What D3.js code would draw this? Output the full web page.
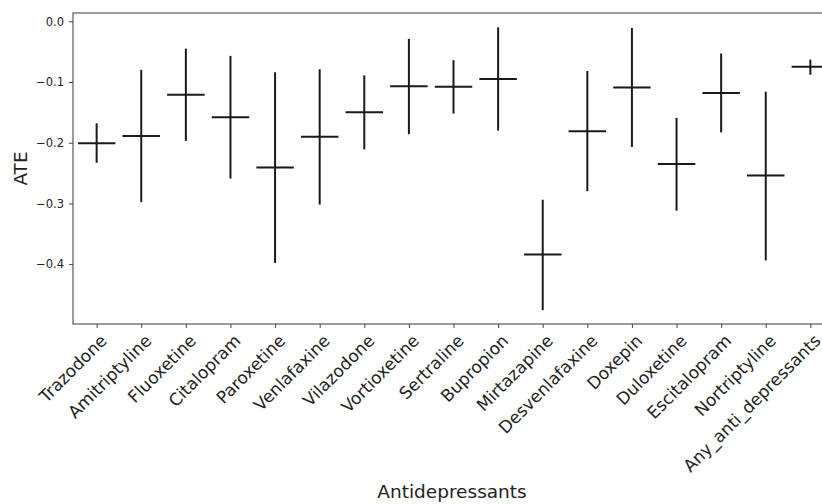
<!DOCTYPE html>
<html>
<head>
<meta charset="utf-8">
<script src="https://cdn.jsdelivr.net/npm/d3@7"></script>
<style>
  body { margin: 0; background: #fff; overflow: hidden; }
  svg { display: block; }
  svg text { font-family: "DejaVu Sans", sans-serif; }
</style>
</head>
<body>
<svg id="chart" width="822" height="504"></svg>
<script>
// ATE estimate per antidepressant, with the lower / upper ends of its interval
var drugs = ["Trazodone", "Amitriptyline", "Fluoxetine", "Citalopram", "Paroxetine",
  "Venlafaxine", "Vilazodone", "Vortioxetine", "Sertraline", "Bupropion", "Mirtazapine",
  "Desvenlafaxine", "Doxepin", "Duloxetine", "Escitalopram", "Nortriptyline",
  "Any_anti_depressants"];
var ate = [-0.201, -0.189, -0.121, -0.158, -0.241, -0.190, -0.150, -0.107, -0.108,
  -0.095, -0.384, -0.181, -0.109, -0.235, -0.118, -0.254, -0.075];
var lower = [-0.233, -0.298, -0.197, -0.259, -0.398, -0.302, -0.211, -0.186, -0.152,
  -0.180, -0.476, -0.280, -0.207, -0.312, -0.183, -0.394, -0.088];
var upper = [-0.168, -0.080, -0.045, -0.057, -0.084, -0.079, -0.089, -0.029, -0.064,
  -0.010, -0.294, -0.082, -0.011, -0.159, -0.053, -0.116, -0.063];
var yTicks = [0, -0.1, -0.2, -0.3, -0.4];

var svg = d3.select("#chart");
var plotLeft = 73, plotTop = 13, plotBottom = 324, plotRight = 834;

var x = d3.scalePoint()
  .domain(drugs)
  .range([plotLeft, plotRight])
  .padding(0.53);

var y = d3.scaleLinear()
  .domain([-0.4987, 0.0137])
  .range([plotBottom, plotTop]);

var capHalf = x.step() * 0.42;
var ink = "#1a1a1a";

var rows = drugs.map(function(d, i) {
  return { name: d, ate: ate[i], lo: lower[i], hi: upper[i] };
});

// vertical interval lines
svg.selectAll(".ci")
  .data(rows)
  .enter().append("line")
  .attr("class", "ci")
  .attr("x1", function(d) { return x(d.name); })
  .attr("x2", function(d) { return x(d.name); })
  .attr("y1", function(d) { return y(d.lo); })
  .attr("y2", function(d) { return y(d.hi); })
  .attr("stroke", ink)
  .attr("stroke-width", 2);

// horizontal point estimate lines
svg.selectAll(".est")
  .data(rows)
  .enter().append("line")
  .attr("class", "est")
  .attr("x1", function(d) { return x(d.name) - capHalf; })
  .attr("x2", function(d) { return x(d.name) + capHalf; })
  .attr("y1", function(d) { return y(d.ate); })
  .attr("y2", function(d) { return y(d.ate); })
  .attr("stroke", ink)
  .attr("stroke-width", 2);

// frame
svg.append("rect")
  .attr("x", plotLeft)
  .attr("y", plotTop)
  .attr("width", plotRight - plotLeft)
  .attr("height", plotBottom - plotTop)
  .attr("fill", "none")
  .attr("stroke", "#666")
  .attr("stroke-width", 1.3);

// y axis
var yAxis = svg.append("g")
  .attr("transform", "translate(" + plotLeft + ",0)")
  .call(d3.axisLeft(y).tickValues(yTicks).tickFormat(d3.format(".1f")).tickSize(4).tickPadding(5));
yAxis.attr("font-family", null);
yAxis.select(".domain").remove();
yAxis.selectAll("line").attr("stroke", "#444");
yAxis.selectAll("text")
  .style("font-size", "11.5px")
  .attr("fill", "#222");

// x axis
var xAxis = svg.append("g")
  .attr("transform", "translate(0," + plotBottom + ")")
  .call(d3.axisBottom(x).tickSize(4));
xAxis.attr("font-family", null);
xAxis.select(".domain").remove();
xAxis.selectAll("line").attr("stroke", "#444");
xAxis.selectAll("text")
  .attr("y", 0)
  .attr("dy", "0.9em")
  .attr("transform", "translate(0,7) rotate(-45)")
  .style("text-anchor", "end")
  .style("font-size", "17px")
  .attr("fill", "#222");

// axis titles
svg.append("text")
  .attr("transform", "translate(27," + ((plotTop + plotBottom) / 2) + ") rotate(-90)")
  .style("text-anchor", "middle")
  .style("font-size", "18.5px")
  .attr("fill", "#222")
  .text("ATE");

svg.append("text")
  .attr("x", 452)
  .attr("y", 498)
  .style("text-anchor", "middle")
  .style("font-size", "18.5px")
  .attr("fill", "#222")
  .text("Antidepressants");
</script>
</body>
</html>
